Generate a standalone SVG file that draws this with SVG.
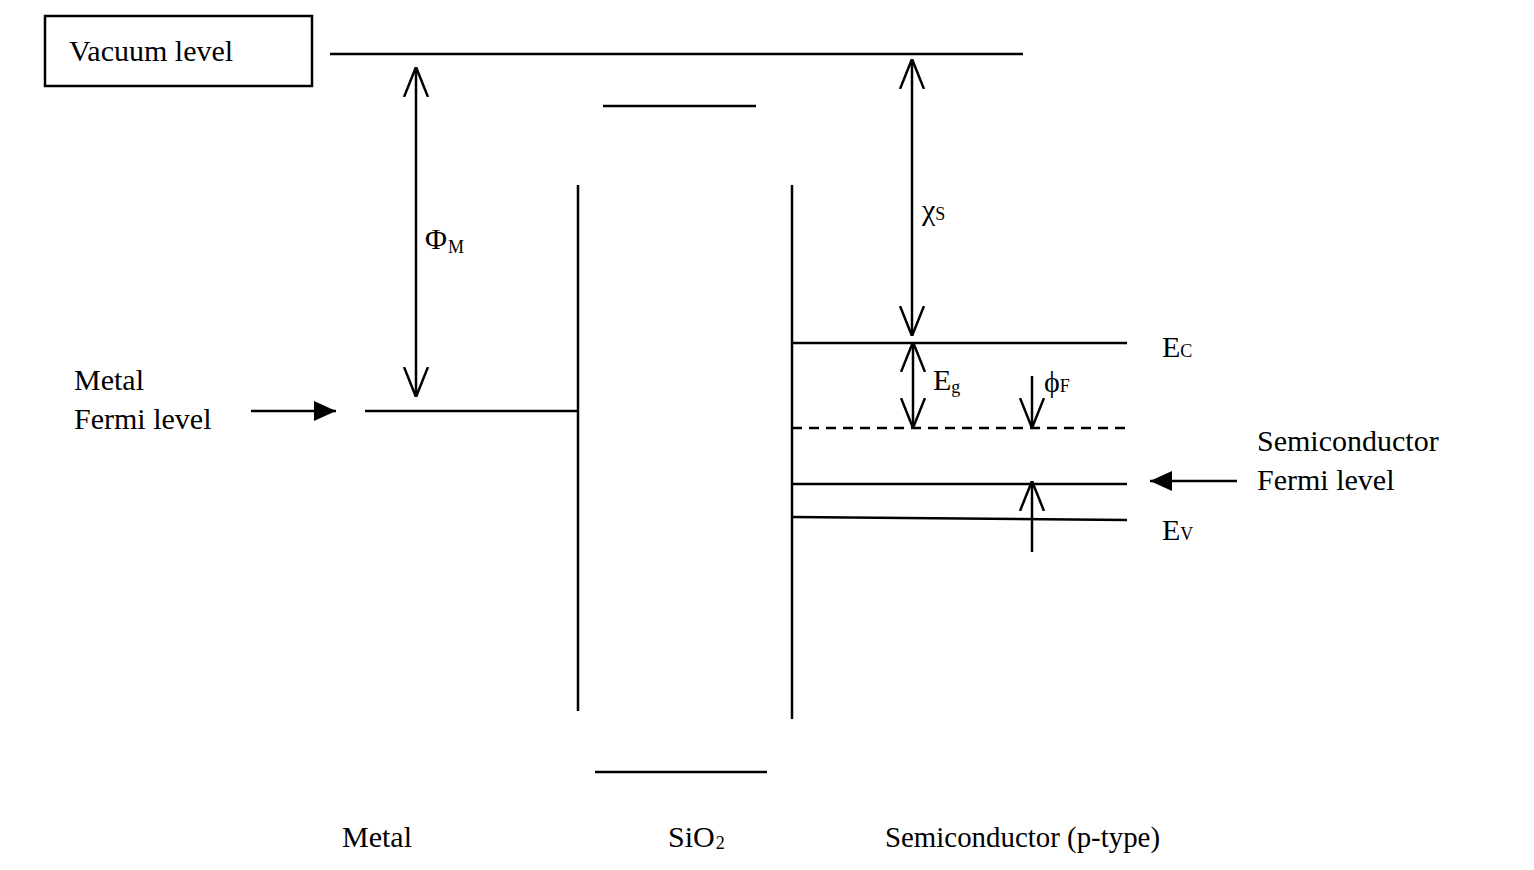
<svg xmlns="http://www.w3.org/2000/svg" width="1534" height="870" viewBox="0 0 1534 870">
<style>
.ln{stroke:#000;stroke-width:2.5;fill:none}
.t{font-family:"Liberation Serif","Times New Roman",serif;font-size:30px;fill:#000}
.s{font-size:18px}
</style>
<defs>
<marker id="open" viewBox="0 0 30 26" refX="30" refY="13" markerWidth="30" markerHeight="26" markerUnits="userSpaceOnUse" orient="auto-start-reverse">
<path d="M0,1 L30,13 L0,25" fill="none" stroke="#000" stroke-width="2.5"/>
</marker>
<marker id="fill" viewBox="0 0 22 20" refX="22" refY="10" markerWidth="22" markerHeight="20" markerUnits="userSpaceOnUse" orient="auto">
<path d="M0,0 L22,10 L0,20 Z" fill="#000"/>
</marker>
</defs>
<rect width="1534" height="870" fill="#fff"/>
<g id="vacuum-label">
<rect x="45" y="16" width="267" height="70" class="ln"/>
<text x="69" y="61" class="t">Vacuum level</text>
</g>
<g id="levels">
<line x1="330" y1="54" x2="1023" y2="54" class="ln"/>
<line x1="603" y1="106" x2="756" y2="106" class="ln"/>
<line x1="595" y1="772" x2="767" y2="772" class="ln"/>
<line x1="578" y1="185" x2="578" y2="711" class="ln"/>
<line x1="792" y1="185" x2="792" y2="719" class="ln"/>
<line x1="365" y1="411" x2="578" y2="411" class="ln"/>
<line x1="792" y1="343" x2="1127" y2="343" class="ln"/>
<line x1="792" y1="428" x2="1127" y2="428" class="ln" stroke-dasharray="10,7"/>
<line x1="792" y1="484" x2="1127" y2="484" class="ln"/>
<line x1="792" y1="517" x2="1127" y2="520" class="ln"/>
</g>
<g id="connectors">
<line x1="416" y1="67" x2="416" y2="397" class="ln" marker-start="url(#open)" marker-end="url(#open)"/>
<line x1="912" y1="59" x2="912" y2="336" class="ln" marker-start="url(#open)" marker-end="url(#open)"/>
<line x1="913" y1="342" x2="913" y2="428" class="ln" marker-start="url(#open)" marker-end="url(#open)"/>
<line x1="1032" y1="376" x2="1032" y2="428" class="ln" marker-end="url(#open)"/>
<line x1="1032" y1="552" x2="1032" y2="481" class="ln" marker-end="url(#open)"/>
<line x1="251" y1="411" x2="336" y2="411" class="ln" marker-end="url(#fill)"/>
<line x1="1237" y1="481" x2="1150" y2="481" class="ln" marker-end="url(#fill)"/>
</g>
<g id="labels">
<text x="425" y="249" class="t">Φ<tspan class="s" dx="1" dy="4">M</tspan></text>
<text x="922" y="220" class="t">χ<tspan class="s">S</tspan></text>
<text x="933" y="390" class="t">E<tspan class="s" dy="3">g</tspan></text>
<text x="1044" y="392" class="t">ϕ<tspan class="s">F</tspan></text>
<text x="1162" y="357" class="t">E<tspan class="s">C</tspan></text>
<text x="1162" y="540" class="t">E<tspan class="s">V</tspan></text>
<text x="74" y="390" class="t">Metal</text>
<text x="74" y="429" class="t">Fermi level</text>
<text x="1257" y="451" class="t">Semiconductor</text>
<text x="1257" y="490" class="t">Fermi level</text>
<text x="342" y="847" class="t">Metal</text>
<text x="668" y="847" class="t">SiO<tspan class="s" dx="1" dy="2">2</tspan></text>
<text x="885" y="847" class="t" textLength="275" lengthAdjust="spacingAndGlyphs">Semiconductor (p-type)</text>
</g>
</svg>
